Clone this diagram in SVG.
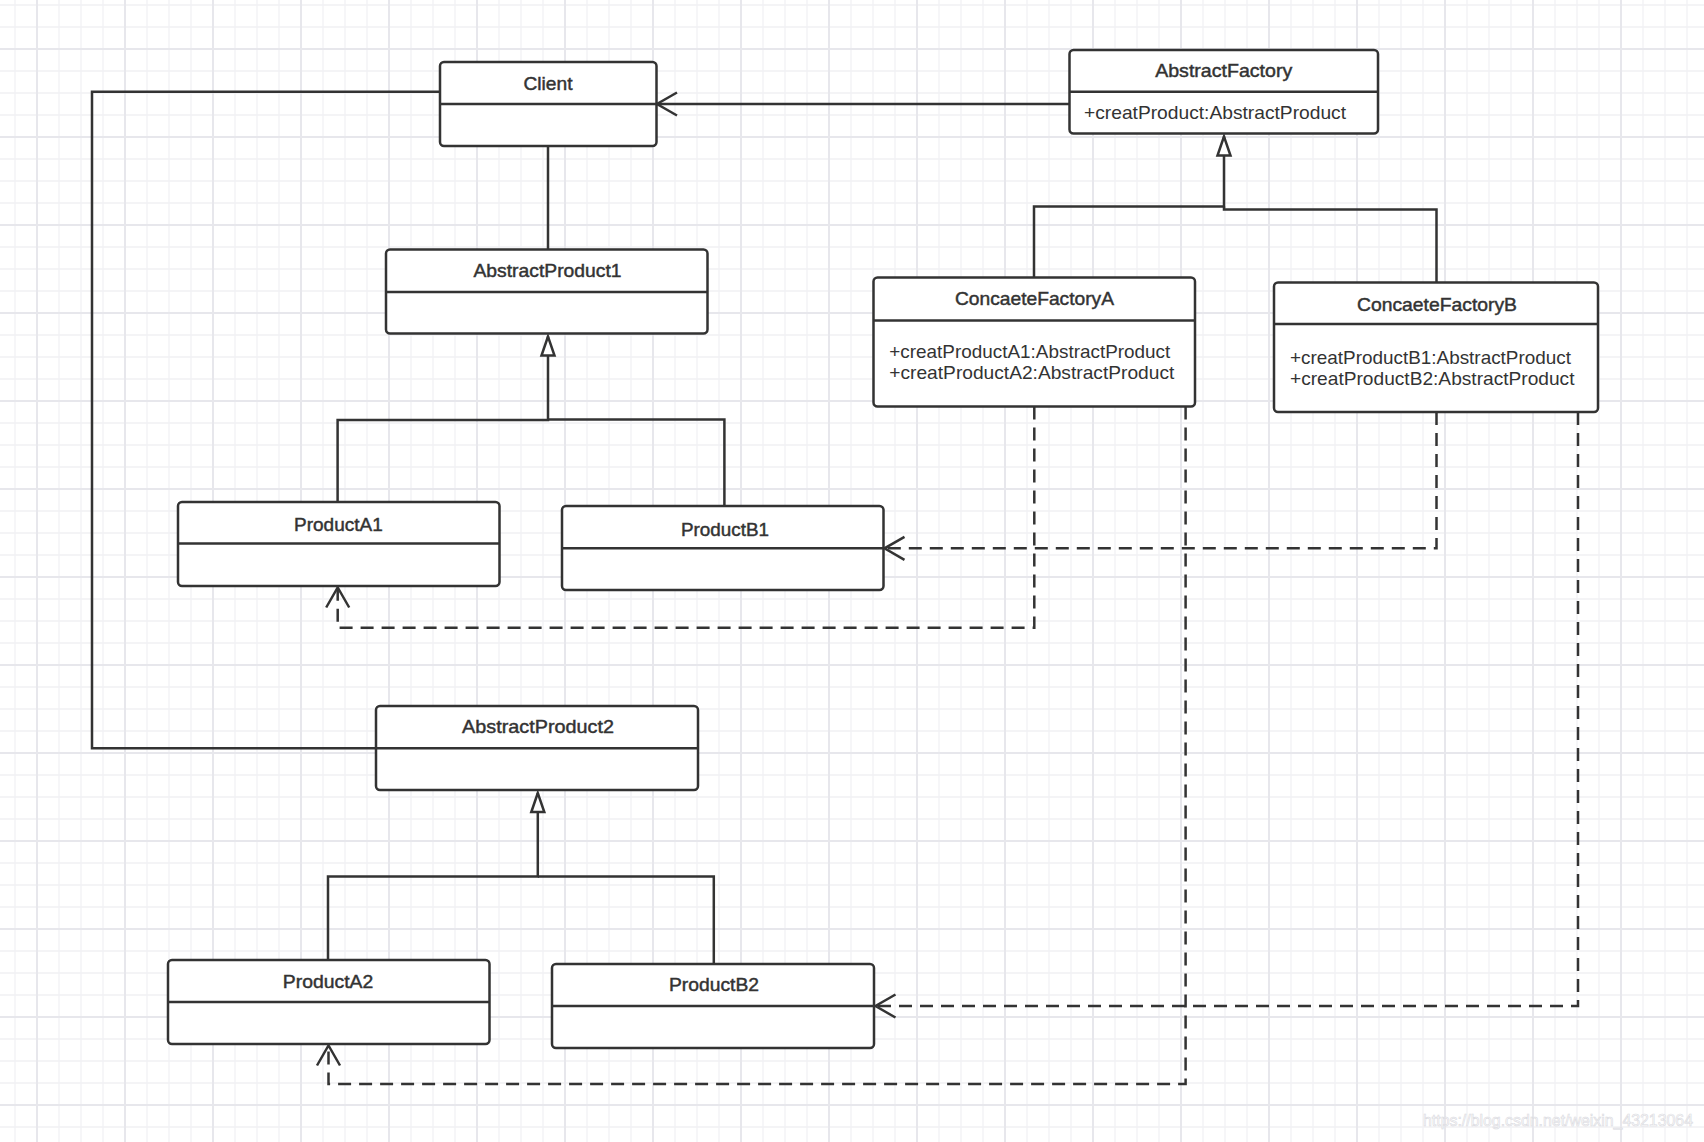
<svg xmlns="http://www.w3.org/2000/svg" width="1704" height="1142" viewBox="0 0 1704 1142">
  <defs>
    <pattern id="grid" x="-18" y="-6" width="88" height="88" patternUnits="userSpaceOnUse">
      <path d="M11 0V88M33 0V88M77 0V88M0 11H88M0 33H88M0 77H88" stroke="#f1f1f4" stroke-width="1.3" fill="none"/>
      <path d="M55 0V88M0 55H88" stroke="#e7e7ec" stroke-width="2" fill="none"/>
    </pattern>
    <marker id="open" markerUnits="userSpaceOnUse" viewBox="-24 -14 28 28" markerWidth="28" markerHeight="28" refX="0" refY="0" orient="auto" overflow="visible">
      <path d="M-20,-11.5 L0,0 L-20,11.5" fill="none" stroke="#333" stroke-width="2.5" stroke-dasharray="none"/>
    </marker>
    <marker id="tri" markerUnits="userSpaceOnUse" viewBox="-22 -10 26 20" markerWidth="26" markerHeight="20" refX="0" refY="0" orient="auto" overflow="visible">
      <path d="M0,0 L-19,-6.5 L-19,6.5 Z" fill="#fff" stroke="#333" stroke-width="2.5" stroke-linejoin="miter"/>
    </marker>
  </defs>
  <style>
    .box { fill: #fff; stroke: #333; stroke-width: 2.5; }
    .div { stroke: #333; stroke-width: 2.5; fill: none; }
    .title { font-family: "Liberation Sans", Arial, sans-serif; font-size: 18.5px; fill: #333; stroke: #333; stroke-width: 0.45; text-anchor: middle; }
    .meth { font-family: "Liberation Sans", Arial, sans-serif; font-size: 18.5px; fill: #333; }
    .line { fill: none; stroke: #333; stroke-width: 2.5; }
    .dash { fill: none; stroke: #333; stroke-width: 2.5; stroke-dasharray: 13 8; }
  </style>

  <rect x="0" y="0" width="1704" height="1142" fill="#fff"/>
  <rect x="0" y="0" width="1704" height="1142" fill="url(#grid)"/>

  <g id="connectors">
    <path class="line" d="M440,91.7 H92 V748.3 H376"/>
    <path class="line" d="M548,146 V249.5"/>
    <path class="line" d="M1069.5,104 H657" marker-end="url(#open)"/>
    <path class="line" d="M1034,277.5 V206.5 H1224 V136.5" marker-end="url(#tri)"/>
    <path class="line" d="M1436.5,282.5 V209.5 H1224 V206.5"/>
    <path class="line" d="M337.6,502 V420 H548 V336.5" marker-end="url(#tri)"/>
    <path class="line" d="M724.4,506 V419.5 H548"/>
    <path class="line" d="M328,960 V876.5 H537.8 V793" marker-end="url(#tri)"/>
    <path class="line" d="M713.8,964 V876.5 H537.8"/>
    <path class="dash" d="M1034.3,406.5 V627.8 H337.7 V587.5" marker-end="url(#open)"/>
    <path class="dash" d="M1185.6,406.5 V1084 H328.5 V1045.5" marker-end="url(#open)"/>
    <path class="dash" d="M1436.5,412 V548.3 H884.5" marker-end="url(#open)"/>
    <path class="dash" d="M1578,412 V1006 H875.5" marker-end="url(#open)"/>
  </g>

  <g id="client">
    <rect class="box" x="440" y="62" width="216.5" height="84" rx="4"/>
    <path class="div" d="M440,104 H656.5"/>
    <text class="title" x="548" y="89.5" textLength="49" lengthAdjust="spacingAndGlyphs">Client</text>
  </g>

  <g id="abstractFactory">
    <rect class="box" x="1069.5" y="50" width="308.5" height="83.5" rx="4"/>
    <path class="div" d="M1069.5,91.7 H1378"/>
    <text class="title" x="1223.7" y="77.3" textLength="137" lengthAdjust="spacingAndGlyphs">AbstractFactory</text>
    <text class="meth" x="1084" y="119.3" textLength="262" lengthAdjust="spacingAndGlyphs">+creatProduct:AbstractProduct</text>
  </g>

  <g id="abstractProduct1">
    <rect class="box" x="386" y="249.5" width="321.5" height="84" rx="4"/>
    <path class="div" d="M386,292 H707.5"/>
    <text class="title" x="547.5" y="277.3" textLength="148" lengthAdjust="spacingAndGlyphs">AbstractProduct1</text>
  </g>

  <g id="concreteFactoryA">
    <rect class="box" x="873.5" y="277.5" width="321.5" height="129" rx="4"/>
    <path class="div" d="M873.5,320.5 H1195"/>
    <text class="title" x="1034.5" y="305" textLength="159" lengthAdjust="spacingAndGlyphs">ConcaeteFactoryA</text>
    <text class="meth" x="889.3" y="357.7" textLength="281" lengthAdjust="spacingAndGlyphs">+creatProductA1:AbstractProduct</text>
    <text class="meth" x="889.3" y="379.3" textLength="285" lengthAdjust="spacingAndGlyphs">+creatProductA2:AbstractProduct</text>
  </g>

  <g id="concreteFactoryB">
    <rect class="box" x="1274" y="282.5" width="324" height="129.5" rx="4"/>
    <path class="div" d="M1274,324 H1598"/>
    <text class="title" x="1437" y="310.7" textLength="160" lengthAdjust="spacingAndGlyphs">ConcaeteFactoryB</text>
    <text class="meth" x="1290" y="363.7" textLength="281" lengthAdjust="spacingAndGlyphs">+creatProductB1:AbstractProduct</text>
    <text class="meth" x="1290" y="384.7" textLength="284.5" lengthAdjust="spacingAndGlyphs">+creatProductB2:AbstractProduct</text>
  </g>

  <g id="productA1">
    <rect class="box" x="178" y="502" width="321.5" height="84" rx="4"/>
    <path class="div" d="M178,543.5 H499.5"/>
    <text class="title" x="338.4" y="531" textLength="88.7" lengthAdjust="spacingAndGlyphs">ProductA1</text>
  </g>

  <g id="productB1">
    <rect class="box" x="562" y="506" width="321.5" height="84" rx="4"/>
    <path class="div" d="M562,548.3 H883.5"/>
    <text class="title" x="725" y="535.5" textLength="88" lengthAdjust="spacingAndGlyphs">ProductB1</text>
  </g>

  <g id="abstractProduct2">
    <rect class="box" x="376" y="706" width="322" height="84" rx="4"/>
    <path class="div" d="M376,748.3 H698"/>
    <text class="title" x="538" y="733.3" textLength="151.8" lengthAdjust="spacingAndGlyphs">AbstractProduct2</text>
  </g>

  <g id="productA2">
    <rect class="box" x="168" y="960" width="321.5" height="84" rx="4"/>
    <path class="div" d="M168,1002 H489.5"/>
    <text class="title" x="328" y="987.5" textLength="90.4" lengthAdjust="spacingAndGlyphs">ProductA2</text>
  </g>

  <g id="productB2">
    <rect class="box" x="552" y="964" width="322" height="84" rx="4"/>
    <path class="div" d="M552,1006 H874"/>
    <text class="title" x="714" y="991" textLength="90" lengthAdjust="spacingAndGlyphs">ProductB2</text>
  </g>

  <text x="1423" y="1126" font-family="'Liberation Sans', Arial, sans-serif" font-size="17" fill="#fbfbfc" stroke="#d9d9de" stroke-width="0.6" textLength="270" lengthAdjust="spacingAndGlyphs">https://blog.csdn.net/weixin_43213064</text>
</svg>
